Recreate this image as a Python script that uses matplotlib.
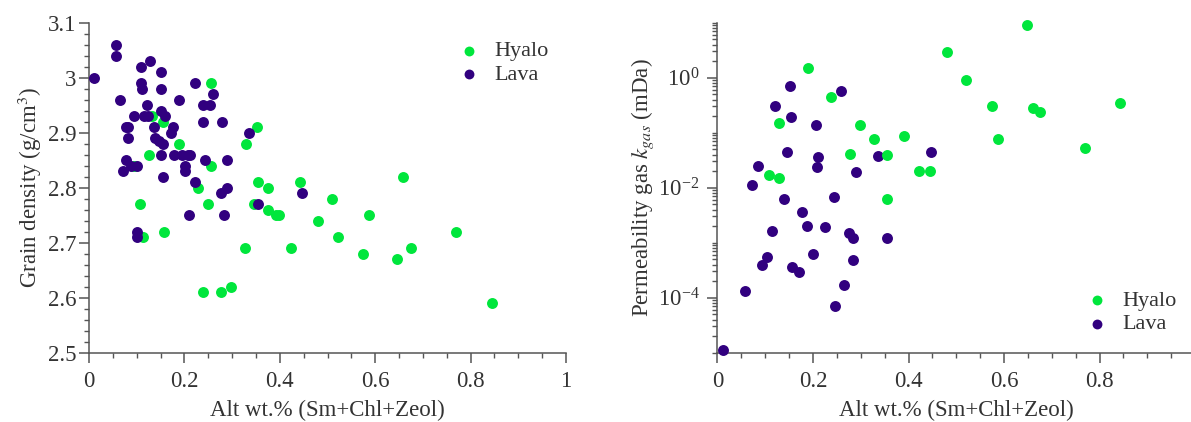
import numpy as np
import matplotlib
matplotlib.use("Agg")
import matplotlib.pyplot as plt
from matplotlib.ticker import MultipleLocator, FixedLocator, FormatStrFormatter, LogLocator, NullFormatter

# grain density vs alteration
hyalo_alt_rho = [0.094, 0.107, 0.113, 0.125, 0.132, 0.156, 0.158, 0.188, 0.228, 0.238,
                 0.249, 0.255, 0.256, 0.277, 0.297, 0.327, 0.330, 0.345, 0.353, 0.355,
                 0.376, 0.376, 0.392, 0.398, 0.423, 0.443, 0.481, 0.510, 0.522, 0.574,
                 0.587, 0.646, 0.659, 0.676, 0.770, 0.844]
hyalo_rho = [2.84, 2.77, 2.71, 2.86, 2.93, 2.92, 2.72, 2.88, 2.80, 2.61,
             2.77, 2.99, 2.84, 2.61, 2.62, 2.69, 2.88, 2.77, 2.91, 2.81,
             2.80, 2.76, 2.75, 2.75, 2.69, 2.81, 2.74, 2.78, 2.71, 2.68,
             2.75, 2.67, 2.82, 2.69, 2.72, 2.59]

lava_alt_rho = [0.010, 0.056, 0.056, 0.066, 0.071, 0.078, 0.081, 0.078, 0.081, 0.088,
                0.094, 0.101, 0.101, 0.101, 0.109, 0.109, 0.111, 0.115, 0.121, 0.123,
                0.128, 0.137, 0.139, 0.146, 0.151, 0.151, 0.151, 0.151, 0.155, 0.155,
                0.160, 0.171, 0.176, 0.179, 0.188, 0.195, 0.202, 0.202, 0.207, 0.212,
                0.209, 0.223, 0.223, 0.240, 0.253, 0.240, 0.244, 0.260, 0.276, 0.278,
                0.283, 0.289, 0.289, 0.335, 0.355, 0.447]
lava_rho = [3.00, 3.06, 3.04, 2.96, 2.83, 2.91, 2.91, 2.85, 2.89, 2.84,
            2.93, 2.84, 2.72, 2.71, 3.02, 2.99, 2.98, 2.93, 2.95, 2.93,
            3.03, 2.91, 2.89, 2.885, 3.01, 2.98, 2.94, 2.86, 2.88, 2.82,
            2.93, 2.90, 2.91, 2.86, 2.96, 2.86, 2.84, 2.83, 2.86, 2.86,
            2.75, 2.99, 2.81, 2.95, 2.95, 2.92, 2.85, 2.97, 2.79, 2.92,
            2.75, 2.85, 2.80, 2.90, 2.77, 2.79]

# gas permeability vs alteration
hyalo_alt_k = [0.108, 0.128, 0.129, 0.189, 0.238, 0.277, 0.298, 0.327, 0.355, 0.356,
               0.391, 0.423, 0.445, 0.481, 0.521, 0.574, 0.587, 0.648, 0.660, 0.676,
               0.770, 0.843]
hyalo_k = [0.017, 0.015, 0.148, 1.48, 0.44, 0.041, 0.14, 0.077, 0.0062, 0.039,
           0.088, 0.020, 0.020, 2.9, 0.91, 0.30, 0.078, 9.2, 0.28, 0.235,
           0.052, 0.34]

lava_alt_k = [0.011, 0.057, 0.073, 0.0855, 0.094, 0.103, 0.115, 0.121, 0.139, 0.145,
              0.151, 0.154, 0.157, 0.170, 0.176, 0.188, 0.199, 0.206, 0.209, 0.210,
              0.226, 0.244, 0.246, 0.259, 0.264, 0.276, 0.283, 0.283, 0.290, 0.337,
              0.356, 0.447]
lava_k = [1.1e-5, 1.3e-4, 0.011, 0.025, 3.9e-4, 5.6e-4, 0.0016, 0.30, 0.0062, 0.044,
          0.70, 0.19, 3.6e-4, 2.9e-4, 0.0036, 0.0020, 6.2e-4, 0.14, 0.0235, 0.036,
          0.0019, 0.0069, 7.1e-5, 0.58, 1.7e-4, 0.0015, 0.0012, 4.8e-4, 0.019, 0.037,
          0.0012, 0.044]

green = '#00e63c'
purple = '#31007f'
txt = '#333333'
axc = '#555555'

plt.rcParams['font.family'] = ['Liberation Serif', 'DejaVu Serif']
plt.rcParams['mathtext.fontset'] = 'stix'
plt.rcParams['axes.unicode_minus'] = False
plt.rcParams['font.size'] = 16.5

fig = plt.figure(figsize=(11.91, 4.22), dpi=100)
ax1 = fig.add_axes([89 / 1191, 69.3 / 422, 477 / 1191, 330 / 422])
ax2 = fig.add_axes([717.5 / 1191, 69.3 / 422, 477.5 / 1191, 330 / 422])

ms = 62
ax1.scatter(hyalo_alt_rho, hyalo_rho, s=ms, color=green, lw=0, label='Hyalo', zorder=3, clip_on=False)
ax1.scatter(lava_alt_rho, lava_rho, s=ms, color=purple, lw=0, label='Lava', zorder=4, clip_on=False)
ax2.scatter(lava_alt_k, lava_k, s=ms, color=purple, lw=0, label='Lava', zorder=3, clip_on=False)
ax2.scatter(hyalo_alt_k, hyalo_k, s=ms, color=green, lw=0, label='Hyalo', zorder=4, clip_on=False)

ax1.set_xlim(0, 1)
ax1.set_ylim(2.5, 3.1)
ax1.xaxis.set_major_locator(MultipleLocator(0.2))
ax1.xaxis.set_minor_locator(MultipleLocator(0.05))
ax1.yaxis.set_major_locator(MultipleLocator(0.1))
ax1.yaxis.set_minor_locator(MultipleLocator(0.02))
ax1.xaxis.set_major_formatter(FormatStrFormatter('%g'))
ax1.yaxis.set_major_formatter(FormatStrFormatter('%g'))

ax2.set_yscale('log')
ax2.set_xlim(0, 1)
ax2.set_ylim(1e-5, 1e1)
ax2.xaxis.set_major_locator(FixedLocator([0, 0.2, 0.4, 0.6, 0.8]))
ax2.xaxis.set_minor_locator(MultipleLocator(0.05))
ax2.xaxis.set_major_formatter(FormatStrFormatter('%g'))
ax2.yaxis.set_major_locator(FixedLocator([1e-4, 1e-2, 1e0]))
ax2.yaxis.set_minor_locator(LogLocator(base=10, subs=np.arange(1, 10), numticks=30))
ax2.yaxis.set_minor_formatter(NullFormatter())

for ax in (ax1, ax2):
    ax.set_xlabel('Alt wt.% (Sm+Chl+Zeol)', color=txt, labelpad=6)
    ax.spines['top'].set_visible(False)
    ax.spines['right'].set_visible(False)
    for s in ('left', 'bottom'):
        ax.spines[s].set_color(axc)
        ax.spines[s].set_linewidth(1.1)
    ax.tick_params(which='major', direction='out', length=7, width=1.1, color=axc,
                   labelcolor=txt, labelsize=16.5, pad=6)
    ax.tick_params(which='minor', direction='out', length=3.5, width=1.0, color=axc)

ax1.tick_params(axis='y', which='major', pad=2)
ax1.set_ylabel('Grain density (g/cm$^3$)', color=txt, labelpad=3)
ax2.set_ylabel('Permeability gas $k_{gas}$ (mDa)', color=txt, labelpad=1.5)

leg_kw = dict(loc='upper left', frameon=False, fontsize=16, handlelength=1.0,
              handletextpad=0.65, labelspacing=0.15, borderpad=0, borderaxespad=0,
              markerscale=0.9, scatterpoints=1)
l1 = ax1.legend(bbox_to_anchor=(0.773, 0.945), **leg_kw)
h, lab = ax2.get_legend_handles_labels()
l2 = ax2.legend(h[::-1], lab[::-1], bbox_to_anchor=(0.771, 0.19), **leg_kw)
for lg in (l1, l2):
    for t in lg.get_texts():
        t.set_color(txt)

fig.savefig('out.png', dpi=100)
